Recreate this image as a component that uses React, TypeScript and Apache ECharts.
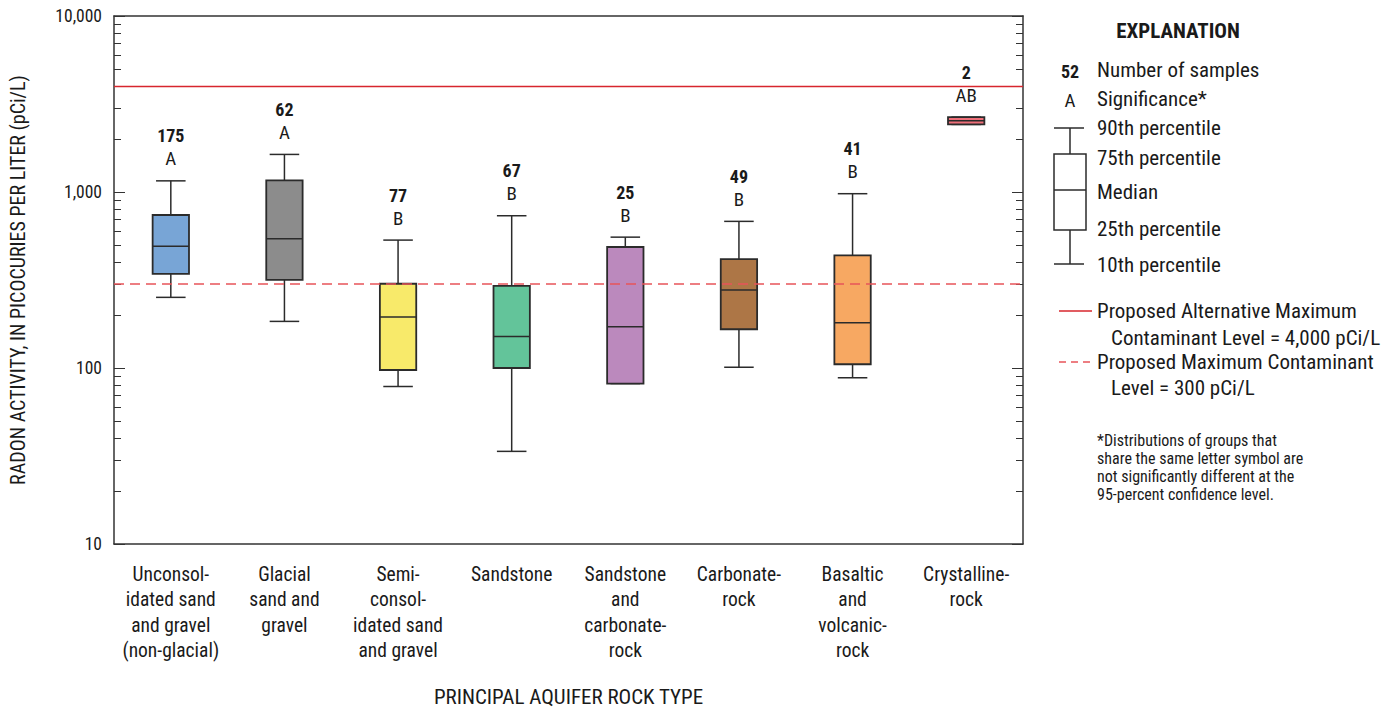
import React, { useEffect, useRef } from "react";
import * as echarts from "echarts";

const categories = [
  "Unconsol-\nidated sand\nand gravel\n(non-glacial)",
  "Glacial\nsand and\ngravel",
  "Semi-\nconsol-\nidated sand\nand gravel",
  "Sandstone",
  "Sandstone\nand\ncarbonate-\nrock",
  "Carbonate-\nrock",
  "Basaltic\nand\nvolcanic-\nrock",
  "Crystalline-\nrock",
];
const p10 = [252, 184, 78.5, 33.6, 81.6, 101, 88, 2421];
const p25 = [343, 317, 97.4, 100, 81.6, 166, 105, 2421];
const median = [491, 542, 195, 151, 171.5, 277, 181, 2538];
const p75 = [740, 1164, 301, 293, 487, 415, 437, 2663];
const p90 = [1157, 1635, 533, 733, 554, 681, 978, 2663];
const sampleCounts = [175, 62, 77, 67, 25, 49, 41, 2];
const significance = ["A", "A", "B", "B", "B", "B", "B", "AB"];
const boxColors = ["#78a5d6", "#8c8c8c", "#f8ea6a", "#63c49a", "#bb89bd", "#ad7646", "#f7a862", "#ee6f79"];

const majorTicks = [10, 100, 1000, 10000];
const minorTicks = [20, 30, 40, 50, 60, 70, 80, 90, 200, 300, 400, 500, 600, 700, 800, 900, 2000, 3000, 4000, 5000, 6000, 7000, 8000, 9000];
const altMCL = 4000;
const mcl = 300;

const FONT = "'Liberation Sans Narrow', 'Arial Narrow', 'Roboto Condensed', 'DejaVu Sans Condensed', 'Liberation Sans', sans-serif";
const TEXT = "#1a1a1a";
const AXIS = "#333";
const LEG = 21;

export default function App() {
  const ref = useRef<HTMLDivElement>(null);
  useEffect(() => {
    if (!ref.current) return;
    const chart = echarts.init(ref.current, null, { renderer: "svg" });
    const data = categories.map((_, i) => [i, p10[i], p25[i], median[i], p75[i], p90[i]]);

    const yBase = {
      type: "log",
      logBase: 10,
      min: 10,
      max: 10000,
      splitLine: { show: false },
    };

    const legendX = 1097;
    const t = (text: string, x: number, y: number, extra: any = {}) => ({
      type: "text",
      x,
      y,
      style: { text, fill: TEXT, font: `${LEG}px ${FONT}`, textVerticalAlign: "middle", ...extra },
    });
    const foot = `16px ${FONT}`;

    const option: any = {
      animation: false,
      grid: { left: 113, top: 16, right: 371, bottom: 162, containLabel: false },
      xAxis: [
        {
          type: "category",
          data: categories,
          position: "bottom",
          axisLine: { lineStyle: { color: AXIS, width: 1.5 } },
          axisTick: { inside: true, length: 7, interval: 0, lineStyle: { color: AXIS } },
          axisLabel: { interval: 0, fontFamily: FONT, fontSize: 19.5, lineHeight: 25.3, color: TEXT, margin: 18 },
          name: "PRINCIPAL AQUIFER ROCK TYPE",
          nameLocation: "middle",
          nameGap: 142,
          nameTextStyle: { fontFamily: FONT, fontSize: 21, color: TEXT },
        },
        {
          type: "category",
          data: categories,
          position: "top",
          axisLine: { lineStyle: { color: AXIS, width: 1.5 } },
          axisTick: { inside: true, length: 7, interval: 0, lineStyle: { color: AXIS } },
          axisLabel: { show: false },
        },
      ],
      yAxis: [
        {
          ...yBase,
          position: "left",
          axisLine: { show: true, lineStyle: { color: AXIS, width: 1.5 } },
          axisTick: { show: true, inside: true, length: 11, customValues: majorTicks, lineStyle: { color: AXIS } },
          axisLabel: {
            customValues: majorTicks,
            fontFamily: FONT,
            fontSize: 17.5,
            color: TEXT,
            margin: 12,
            formatter: (v: number) => v.toLocaleString("en-US"),
          },
          name: "RADON ACTIVITY, IN PICOCURIES PER LITER (pCi/L)",
          nameLocation: "middle",
          nameGap: 86,
          nameTextStyle: { fontFamily: FONT, fontSize: 20, color: TEXT },
        },
        {
          ...yBase,
          position: "left",
          axisLine: { show: false },
          axisTick: { show: true, inside: true, length: 7, customValues: minorTicks, lineStyle: { color: AXIS } },
          axisLabel: { show: false },
        },
        {
          ...yBase,
          position: "right",
          axisLine: { show: true, lineStyle: { color: AXIS, width: 1.5 } },
          axisTick: { show: true, inside: true, length: 11, customValues: majorTicks, lineStyle: { color: AXIS } },
          axisLabel: { show: false },
        },
        {
          ...yBase,
          position: "right",
          axisLine: { show: false },
          axisTick: { show: true, inside: true, length: 7, customValues: minorTicks, lineStyle: { color: AXIS } },
          axisLabel: { show: false },
        },
      ],
      series: [
        {
          type: "line",
          data: [],
          z: 1,
          markLine: {
            silent: true,
            symbol: "none",
            label: { show: false },
            data: [
              { yAxis: altMCL, lineStyle: { color: "#d7262d", type: "solid", width: 1.3 } },
              { yAxis: mcl, lineStyle: { color: "#e8545a", type: [10, 6], width: 1.5 } },
            ],
          },
        },
        {
          type: "custom",
          z: 3,
          data,
          renderItem: (params: any, api: any) => {
            const i = api.value(0);
            const cx = api.coord([i, 100])[0];
            const band = api.coord([1, 100])[0] - api.coord([0, 100])[0];
            const hw = band * 0.16;
            const cw = band * 0.13;
            const y10 = api.coord([i, api.value(1)])[1];
            const y25 = api.coord([i, api.value(2)])[1];
            const y50 = api.coord([i, api.value(3)])[1];
            const y75 = api.coord([i, api.value(4)])[1];
            const y90 = api.coord([i, api.value(5)])[1];
            const ls = { stroke: "#2b2b2b", lineWidth: 1.5 };
            const idx = params.dataIndex;
            return {
              type: "group",
              children: [
                { type: "line", shape: { x1: cx, y1: y90, x2: cx, y2: y75 }, style: ls },
                { type: "line", shape: { x1: cx, y1: y25, x2: cx, y2: y10 }, style: ls },
                { type: "line", shape: { x1: cx - cw, y1: y90, x2: cx + cw, y2: y90 }, style: ls },
                { type: "line", shape: { x1: cx - cw, y1: y10, x2: cx + cw, y2: y10 }, style: ls },
                {
                  type: "rect",
                  shape: { x: cx - hw, y: y75, width: hw * 2, height: Math.max(y25 - y75, 1) },
                  style: { fill: boxColors[idx], stroke: "#2b2b2b", lineWidth: 1.8 },
                },
                { type: "line", shape: { x1: cx - hw, y1: y50, x2: cx + hw, y2: y50 }, style: ls },
                {
                  type: "text",
                  x: cx,
                  y: y90 - 45,
                  style: {
                    text: String(sampleCounts[idx]),
                    fill: TEXT,
                    font: `bold 18px ${FONT}`,
                    textAlign: "center",
                    textVerticalAlign: "middle",
                  },
                },
                {
                  type: "text",
                  x: cx,
                  y: y90 - 22,
                  style: {
                    text: significance[idx],
                    fill: TEXT,
                    font: `19px ${FONT}`,
                    textAlign: "center",
                    textVerticalAlign: "middle",
                  },
                },
              ],
            };
          },
        },
      ],
      graphic: [
        t("EXPLANATION", 1178, 31, { font: `bold ${LEG}px ${FONT}`, textAlign: "center" }),
        t("52", 1070, 71, { font: `bold 18px ${FONT}`, textAlign: "center" }),
        t("Number of samples", legendX, 70),
        t("A", 1070, 100, { font: `19px ${FONT}`, textAlign: "center" }),
        t("Significance*", legendX, 99),
        { type: "line", shape: { x1: 1054, y1: 128, x2: 1084, y2: 128 }, style: { stroke: "#2b2b2b", lineWidth: 1.5 } },
        { type: "line", shape: { x1: 1070, y1: 128, x2: 1070, y2: 154 }, style: { stroke: "#2b2b2b", lineWidth: 1.5 } },
        { type: "rect", shape: { x: 1054, y: 154, width: 32, height: 76 }, style: { fill: "#fff", stroke: "#2b2b2b", lineWidth: 1.5 } },
        { type: "line", shape: { x1: 1054, y1: 190, x2: 1086, y2: 190 }, style: { stroke: "#2b2b2b", lineWidth: 1.5 } },
        { type: "line", shape: { x1: 1070, y1: 230, x2: 1070, y2: 264 }, style: { stroke: "#2b2b2b", lineWidth: 1.5 } },
        { type: "line", shape: { x1: 1054, y1: 264, x2: 1084, y2: 264 }, style: { stroke: "#2b2b2b", lineWidth: 1.5 } },
        t("90th percentile", legendX, 128),
        t("75th percentile", legendX, 158),
        t("Median", legendX, 192),
        t("25th percentile", legendX, 229),
        t("10th percentile", legendX, 265),
        { type: "line", shape: { x1: 1059, y1: 311, x2: 1092, y2: 311 }, style: { stroke: "#d7262d", lineWidth: 1.3 } },
        t("Proposed Alternative Maximum", legendX, 311),
        t("Contaminant Level = 4,000 pCi/L", 1111, 338),
        { type: "line", shape: { x1: 1059, y1: 362, x2: 1092, y2: 362 }, style: { stroke: "#e8545a", lineWidth: 1.5, lineDash: [7, 5] } },
        t("Proposed Maximum Contaminant", legendX, 362),
        t("Level = 300 pCi/L", 1111, 388),
        t("*Distributions of groups that", legendX, 440, { font: foot }),
        t("share the same letter symbol are", legendX, 458, { font: foot }),
        t("not significantly different at the", legendX, 476, { font: foot }),
        t("95-percent confidence level.", legendX, 494, { font: foot }),
      ],
    };
    chart.setOption(option);
    return () => chart.dispose();
  }, []);
  return (
    <div
      ref={ref}
      style={{ position: "fixed", left: 0, top: 0, width: 1394, height: 712, background: "#fff" }}
    />
  );
}
